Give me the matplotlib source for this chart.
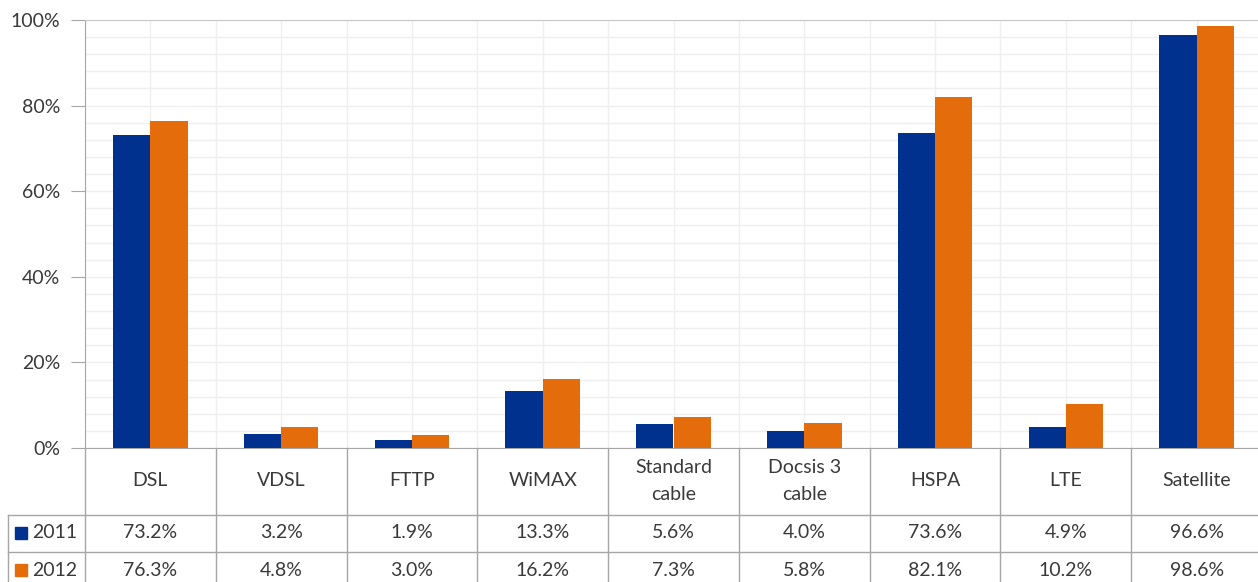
import numpy as np
import matplotlib.pyplot as plt
from matplotlib.patches import Rectangle

# Data
categories = ["DSL", "VDSL", "FTTP", "WiMAX", "Standard\ncable", "Docsis 3\ncable",
              "HSPA", "LTE", "Satellite"]
labels_2011 = ["73.2%", "3.2%", "1.9%", "13.3%", "5.6%", "4.0%", "73.6%", "4.9%", "96.6%"]
labels_2012 = ["76.3%", "4.8%", "3.0%", "16.2%", "7.3%", "5.8%", "82.1%", "10.2%", "98.6%"]
vals_2011 = [73.2, 3.2, 1.9, 13.3, 5.6, 4.0, 73.6, 4.9, 96.6]
vals_2012 = [76.3, 4.8, 3.0, 16.2, 7.3, 5.8, 82.1, 10.2, 98.6]
series = ["2011", "2012"]
colors = ["#00318F", "#E46C0A"]

plt.rcParams['font.family'] = ['Lato', 'DejaVu Sans']
W, H = 1258, 582
PW = 1177  # plot width in px (runs slightly past the right edge)
txt = "#3A3A3A"
line_c = "#A6A6A6"

fig = plt.figure(figsize=(W / 100, H / 100), dpi=100)
ax = fig.add_axes([85 / W, (H - 448) / H, PW / W, 428 / H])

x = np.arange(len(categories))
bw = 0.285
ax.bar(x - bw / 2, vals_2011, bw, color=colors[0], zorder=3)
ax.bar(x + bw / 2, vals_2012, bw, color=colors[1], zorder=3)

ax.set_xlim(-0.5, len(categories) - 0.5)
ax.set_ylim(0, 100)
ax.set_yticks(np.arange(0, 101, 20))
ax.set_yticklabels([f"{v}%" for v in range(0, 101, 20)], fontsize=14, color=txt)
ax.set_yticks(np.arange(0, 101, 4), minor=True)
ax.tick_params(axis='y', which='major', length=10, color=line_c, pad=8)
ax.tick_params(axis='y', which='minor', length=0)
ax.set_xticks(np.arange(-0.5, len(categories), 0.5))
ax.set_xticklabels([])
ax.tick_params(axis='x', length=0)
ax.grid(axis='y', which='both', color="#EFEFEF", lw=1, zorder=0)
ax.grid(axis='x', color="#EFEFEF", lw=1, zorder=0)
ax.spines['right'].set_visible(False)
for s in ['left', 'bottom']:
    ax.spines[s].set_color(line_c)
ax.spines['top'].set_color("#C8C8C8")

# Data table below
tab = fig.add_axes([85 / W, 0, PW / W, 134 / H])
tab.set_xlim(-0.5, len(categories) - 0.5)
tab.set_ylim(0, 134)
tab.axis('off')
unit = PW / len(categories)
left = -0.5 - 77 / unit
for b in np.arange(-0.5, len(categories), 1.0):
    tab.plot([b, b], [0, 134], color=line_c, lw=1, clip_on=False)
for yy in (67, 30):
    tab.plot([left, len(categories) - 0.5], [yy, yy], color=line_c, lw=1, clip_on=False)
tab.plot([left, left], [0, 67], color=line_c, lw=1, clip_on=False)

for i, c in enumerate(categories):
    tab.text(i, 101, c, ha='center', va='center', fontsize=14, color=txt, linespacing=1.75)
    tab.text(i, 49, labels_2011[i], ha='center', va='center', fontsize=14, color=txt)
    tab.text(i, 12, labels_2012[i], ha='center', va='center', fontsize=14, color=txt)

for yy, name, col in zip((49, 12), series, colors):
    tab.add_patch(Rectangle((left + 7 / unit, yy - 6), 12 / unit, 12, color=col, clip_on=False))
    tab.text(left + 24 / unit, yy, name, ha='left', va='center', fontsize=14, color=txt)

fig.savefig("out.png", dpi=100)
